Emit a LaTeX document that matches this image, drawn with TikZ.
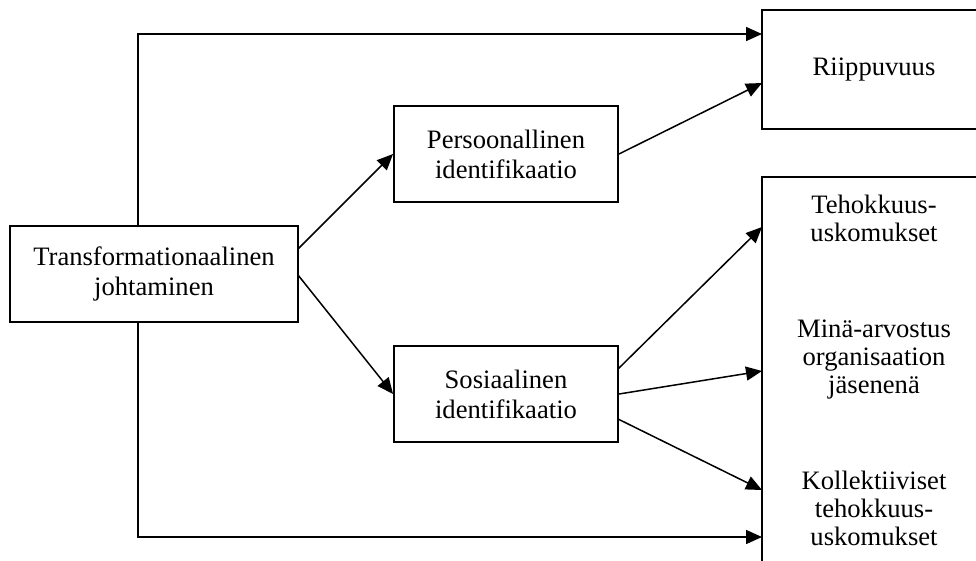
\documentclass[tikz,border=0pt]{standalone}
\usepackage{fontspec}
\setmainfont{Liberation Serif}
\usetikzlibrary{arrows.meta}
\begin{document}
\begin{tikzpicture}[x=1pt,y=-1pt,
  box/.style={draw,line width=1.9pt,rectangle,align=center,inner sep=0pt,
    font=\fontsize{26.6}{30}\selectfont},
  lbl/.style={align=center,inner sep=0pt,font=\fontsize{26.6}{28}\selectfont},
  conn/.style={line width=1.5pt,-{Triangle[length=16pt,width=14pt]}}]
\clip (0,0) rectangle (976,560);
\fill[white] (0,0) rectangle (976,560);

% boxes
\node[box,minimum width=288pt,minimum height=96pt] (T) at (154,274)
  {Transformationaalinen\\johtaminen};
\node[box,minimum width=224pt,minimum height=96pt] (P) at (506,154)
  {Persoonallinen\\identifikaatio};
\node[box,minimum width=224pt,minimum height=96pt] (S) at (506,394)
  {Sosiaalinen\\identifikaatio};
\node[box,minimum width=224pt,minimum height=119pt] (R) at (874,69.5)
  {Riippuvuus};
\node[box,minimum width=224pt,minimum height=420pt] (B) at (874,387) {};

% outcome labels inside the large box
\node[lbl] (E1) at (874,218) {Tehokkuus-\\uskomukset};
\node[lbl] (E2) at (874,360) {Minä-arvostus\\organisaation\\jäsenenä};
\node[lbl] (E3) at (874,508) {Kollektiiviset\\tehokkuus-\\uskomukset};

% anchor points
\coordinate (Ttop) at (138,226);
\coordinate (Tbot) at (138,322);
\coordinate (Tup) at (298,249);
\coordinate (Tdn) at (298,275);
\coordinate (Rtop) at (762,34);
\coordinate (Rlow) at (762,83);
\coordinate (Sa) at (618,369);
\coordinate (Sc) at (618,419);
\coordinate (B1) at (762,227);
\coordinate (B2) at (762,371);
\coordinate (B3) at (762,490);
\coordinate (B4) at (762,537);

% connectors
\draw[conn] (Ttop) |- (Rtop);
\draw[conn] (Tbot) |- (B4);
\draw[conn] (Tup) -- (P.west);
\draw[conn] (Tdn) -- (S.west);
\draw[conn] (P.east) -- (Rlow);
\draw[conn] (Sa) -- (B1);
\draw[conn] (S.east) -- (B2);
\draw[conn] (Sc) -- (B3);
\end{tikzpicture}
\end{document}
